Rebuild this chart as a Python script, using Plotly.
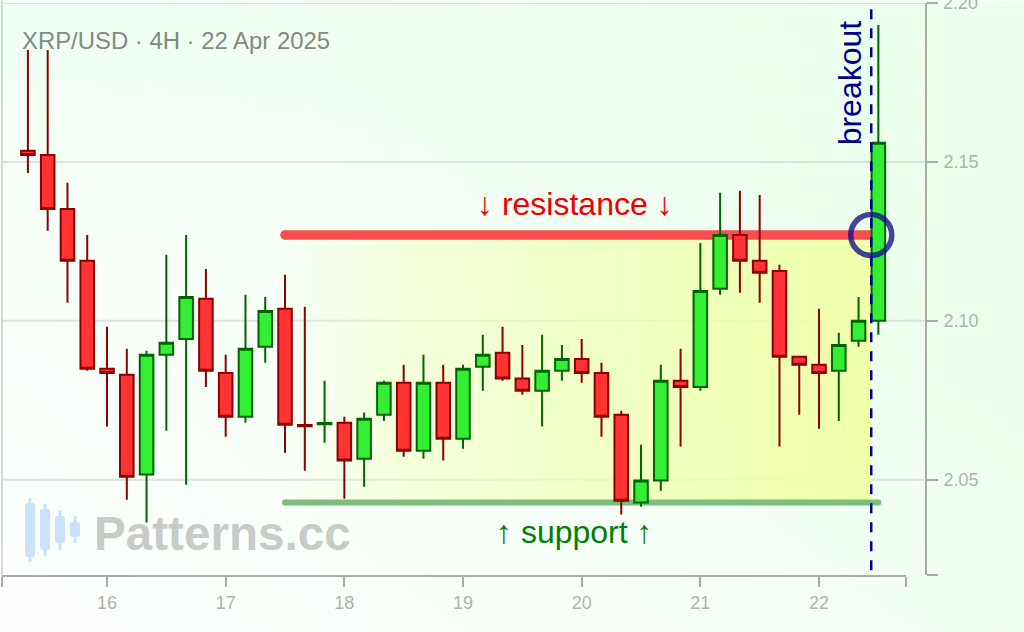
import base64
import plotly.graph_objects as go

# ---- data ----
times = [15.3333, 15.5, 15.6667, 15.8333, 16.0, 16.1667, 16.3333, 16.5, 16.6667, 16.8333, 17.0,
         17.1667, 17.3333, 17.5, 17.6667, 17.8333, 18.0, 18.1667, 18.3333, 18.5, 18.6667, 18.8333,
         19.0, 19.1667, 19.3333, 19.5, 19.6667, 19.8333, 20.0, 20.1667, 20.3333, 20.5, 20.6667,
         20.8333, 21.0, 21.1667, 21.3333, 21.5, 21.6667, 21.8333, 22.0, 22.1667, 22.3333, 22.5]
opens = [2.1535, 2.1522, 2.1352, 2.1189, 2.0849, 2.0830, 2.0516, 2.0893, 2.0943, 2.1069, 2.0836,
         2.0698, 2.0918, 2.1038, 2.0672, 2.0674, 2.0679, 2.0566, 2.0704, 2.0805, 2.0591, 2.0805,
         2.0629, 2.0855, 2.0899, 2.0818, 2.0780, 2.0843, 2.0880, 2.0836, 2.0704, 2.0428, 2.0497,
         2.0811, 2.0792, 2.1101, 2.1270, 2.1189, 2.1157, 2.0887, 2.0862, 2.0843, 2.0937, 2.1000]
highs = [2.1852, 2.1852, 2.1434, 2.1270, 2.0981, 2.0912, 2.0906, 2.1208, 2.1270, 2.1163, 2.0893,
         2.1082, 2.1075, 2.1145, 2.1044, 2.0811, 2.0698, 2.0711, 2.0811, 2.0862, 2.0893, 2.0862,
         2.0862, 2.0956, 2.0981, 2.0924, 2.0956, 2.0924, 2.0943, 2.0868, 2.0717, 2.0610, 2.0862,
         2.0912, 2.1245, 2.1403, 2.1409, 2.1396, 2.1176, 2.0887, 2.1038, 2.0962, 2.1075, 2.1931]
lows = [2.1465, 2.1283, 2.1057, 2.0843, 2.0667, 2.0437, 2.0365, 2.0654, 2.0484, 2.0792, 2.0635,
        2.0679, 2.0868, 2.0585, 2.0528, 2.0616, 2.0440, 2.0478, 2.0685, 2.0572, 2.0566, 2.0560,
        2.0597, 2.0780, 2.0811, 2.0767, 2.0667, 2.0811, 2.0805, 2.0635, 2.0390, 2.0415, 2.0465,
        2.0604, 2.0780, 2.1082, 2.1088, 2.1057, 2.0604, 2.0704, 2.0660, 2.0685, 2.0918, 2.0956]
closes = [2.1522, 2.1352, 2.1189, 2.0849, 2.0836, 2.0509, 2.0893, 2.0931, 2.1075, 2.0843, 2.0698,
          2.0912, 2.1031, 2.0673, 2.0668, 2.0678, 2.0560, 2.0692, 2.0805, 2.0591, 2.0805, 2.0629,
          2.0849, 2.0893, 2.0818, 2.0780, 2.0843, 2.0880, 2.0836, 2.0698, 2.0434, 2.0497, 2.0811,
          2.0792, 2.1094, 2.1270, 2.1189, 2.1151, 2.0887, 2.0862, 2.0836, 2.0924, 2.1000, 2.1560]

resistance = 2.1270
support = 2.0428
zone_x = [17.44, 22.44]
level_x = [17.5, 22.5]
breakout_x = 22.44
x_ticks = [15.115, 16, 17, 18, 19, 20, 21, 22, 22.733]
x_labels = ["", "16", "17", "18", "19", "20", "21", "22", ""]
y_ticks = [2.02, 2.05, 2.10, 2.15, 2.20]
y_labels = ["", "2.05", "2.10", "2.15", ""]
top_label = "2.20"
x_range = [15.115, 22.733]
y_range = [2.02, 2.20]

W, H = 1024, 632
L, R, T, B = 2, 0, 2.6, 57
PW, PH = W - L - R, H - T - B


def px(x):
    return (x - L) / PW


def py(y):
    return (H - B - y) / PH


AXIS = "#a9aba7"
TICKTXT = "#b0b2ae"
GRID = "rgba(205,212,205,0.65)"

svg = f"""<svg xmlns='http://www.w3.org/2000/svg' width='{W}' height='{H}'>
<defs><linearGradient id='g' x1='0' y1='1' x2='1' y2='0.2'>
<stop offset='0' stop-color='#fdfffd'/><stop offset='0.45' stop-color='#f6fff7'/>
<stop offset='1' stop-color='#e7ffe7'/></linearGradient>
<linearGradient id='t' x1='0' y1='0' x2='0.35' y2='0.7'>
<stop offset='0' stop-color='#eefff2' stop-opacity='0.7'/><stop offset='1' stop-color='#ffffff' stop-opacity='0'/></linearGradient></defs>
<rect width='{W}' height='{H}' fill='url(#g)'/><rect width='{W}' height='{H}' fill='url(#t)'/></svg>"""
bg = "data:image/svg+xml;base64," + base64.b64encode(svg.encode()).decode()

fig = go.Figure()

# yellow zone (lower subplot, so the candles sit on top)
fig.add_trace(go.Scatter(
    x=[zone_x[0], zone_x[1], zone_x[1], zone_x[0], zone_x[0]],
    y=[support, support, resistance, resistance, support],
    mode="lines", line=dict(width=0), fill="toself",
    fillgradient=dict(type="horizontal", colorscale=[
        [0, "rgba(242,255,190,0)"], [0.2, "rgba(242,255,190,0.45)"], [0.5, "rgba(240,255,180,0.7)"],
        [1, "rgba(240,255,165,0.95)"]]),
    hoverinfo="skip", showlegend=False))

# resistance / support
for lvl, colr, wd in ((resistance, "#fa4d4d", 9.5), (support, "#7cbe7c", 6)):
    fig.add_trace(go.Scatter(
        x=level_x, y=[lvl, lvl], mode="lines+markers",
        line=dict(color=colr, width=wd),
        marker=dict(color=colr, size=wd, line=dict(width=0)),
        hoverinfo="skip", showlegend=False))

# candles (overlay subplot)
fig.add_trace(go.Candlestick(
    x=times, open=opens, high=highs, low=lows, close=closes, whiskerwidth=0,
    xaxis="x2", yaxis="y2",
    increasing=dict(fillcolor="#33ee33", line=dict(color="#006400", width=2)),
    decreasing=dict(fillcolor="#ff3333", line=dict(color="#8b0000", width=2)),
    hoverinfo="skip", showlegend=False))

# breakout line and circle
fig.add_trace(go.Scatter(
    x=[breakout_x, breakout_x], y=[2.0215, 2.2008], mode="lines", xaxis="x2", yaxis="y2",
    cliponaxis=False, line=dict(color="#000090", width=2.5, dash="10px,9px"),
    hoverinfo="skip", showlegend=False))
fig.add_trace(go.Scatter(
    x=[breakout_x], y=[resistance], mode="markers", opacity=0.78, xaxis="x2", yaxis="y2",
    marker=dict(symbol="circle-open", size=41, color="#10108a", line=dict(width=5.5, color="#10108a")),
    hoverinfo="skip", showlegend=False))

shapes = [dict(type="line", xref="paper", yref="y", x0=0, x1=px(926), y0=v, y1=v,
               line=dict(color=GRID, width=2), layer="below") for v in y_ticks[1:]]
shapes.append(dict(type="line", xref="paper", yref="paper", x0=0, x1=0, y0=py(575), y1=py(0),
                   line=dict(color="#d4d8d4", width=2), layer="below"))


def rounded(x0, x1, y0, y1, r):
    X0, X1, Y0, Y1 = px(x0), px(x1), py(y0), py(y1)
    rx, ry = r / PW, r / PH
    return (f"M {X0},{Y0 - ry} Q {X0},{Y0} {X0 + rx},{Y0} L {X1 - rx},{Y0} Q {X1},{Y0} {X1},{Y0 - ry} "
            f"L {X1},{Y1 + ry} Q {X1},{Y1} {X1 - rx},{Y1} L {X0 + rx},{Y1} Q {X0},{Y1} {X0},{Y1 + ry} Z")


# watermark logo
logo_cx = [30, 45, 60, 75]
logo_body = [(503, 557), (509, 550), (516, 543), (522, 537)]
logo_wick = [(498, 562), (504, 556), (510, 550), (516, 543)]
for cx, (b0, b1), (w0, w1) in zip(logo_cx, logo_body, logo_wick):
    shapes.append(dict(type="rect", xref="paper", yref="paper", x0=px(cx - 1.5), x1=px(cx + 1.5),
                       y0=py(w1), y1=py(w0), fillcolor="#c8e2fc", line=dict(width=0), layer="below"))
    shapes.append(dict(type="path", xref="paper", yref="paper", path=rounded(cx - 5, cx + 5, b0, b1, 3),
                       fillcolor="#c8e2fc", line=dict(width=0), layer="below"))

FONT = "Liberation Sans"
annotations = [
    dict(text="XRP/USD · 4H · 22 Apr 2025", xref="paper", yref="paper", x=px(20), y=py(40.5),
         xanchor="left", yanchor="middle", showarrow=False, font=dict(family=FONT, size=23.9, color="#7f8a84")),
    dict(text="Patterns.cc", xref="paper", yref="paper", x=px(92), y=py(533),
         xanchor="left", yanchor="middle", showarrow=False,
         font=dict(family=FONT, size=47.6, color="#c9cbc8", weight="bold")),
    dict(text="↓ resistance ↓", xref="x", yref="paper", x=19.94, y=py(204), xanchor="center", yanchor="middle",
         showarrow=False, font=dict(family=FONT, size=32, color="#ee0000")),
    dict(text="↑ support ↑", xref="x", yref="paper", x=19.94, y=py(532), xanchor="center", yanchor="middle",
         showarrow=False, font=dict(family=FONT, size=32, color="#008000")),
    dict(text="breakout", xref="paper", yref="paper", x=px(850), y=py(83), xanchor="center", yanchor="middle",
         textangle=-90, showarrow=False, font=dict(family=FONT, size=32, color="#000090")),
    dict(text=top_label, xref="paper", yref="y", x=px(941), y=y_ticks[-1], xanchor="left", yanchor="middle",
         showarrow=False, font=dict(family=FONT, size=18, color=TICKTXT)),
]

fig.update_layout(
    width=W, height=H, margin=dict(l=L, r=R, t=T, b=B, pad=0),
    paper_bgcolor="rgba(0,0,0,0)", plot_bgcolor="rgba(0,0,0,0)",
    showlegend=False, boxgap=0.3, boxgroupgap=0.02, hovermode=False,
    shapes=shapes, annotations=annotations,
    images=[dict(source=bg, xref="paper", yref="paper", x=px(0), y=py(0),
                 sizex=W / PW, sizey=H / PH, sizing="stretch", xanchor="left", yanchor="top",
                 layer="below")],
    xaxis=dict(domain=[0, px(906)], range=x_range, tickmode="array", tickvals=x_ticks, ticktext=x_labels,
               showgrid=False, zeroline=False, showline=True, linecolor=AXIS, linewidth=2,
               ticks="outside", ticklen=10, tickwidth=2, tickcolor=AXIS,
               tickfont=dict(family=FONT, size=18, color=TICKTXT)),
    yaxis=dict(range=y_range, side="right", anchor="free", position=px(926), tickmode="array",
               tickvals=y_ticks, ticktext=y_labels, showgrid=False, zeroline=False, showline=True,
               linecolor=AXIS, linewidth=2, ticks="outside", ticklen=11, tickwidth=2, tickcolor=AXIS,
               ticklabelstandoff=2, tickfont=dict(family=FONT, size=18, color=TICKTXT)),
    xaxis2=dict(overlaying="x", matches="x", range=x_range, visible=False, rangeslider=dict(visible=False)),
    yaxis2=dict(overlaying="y", matches="y", range=y_range, visible=False, side="right"),
)

fig.write_html("out.html", config=dict(displayModeBar=False),
               post_script="document.body.style.margin='0';document.body.style.overflow='hidden';")
